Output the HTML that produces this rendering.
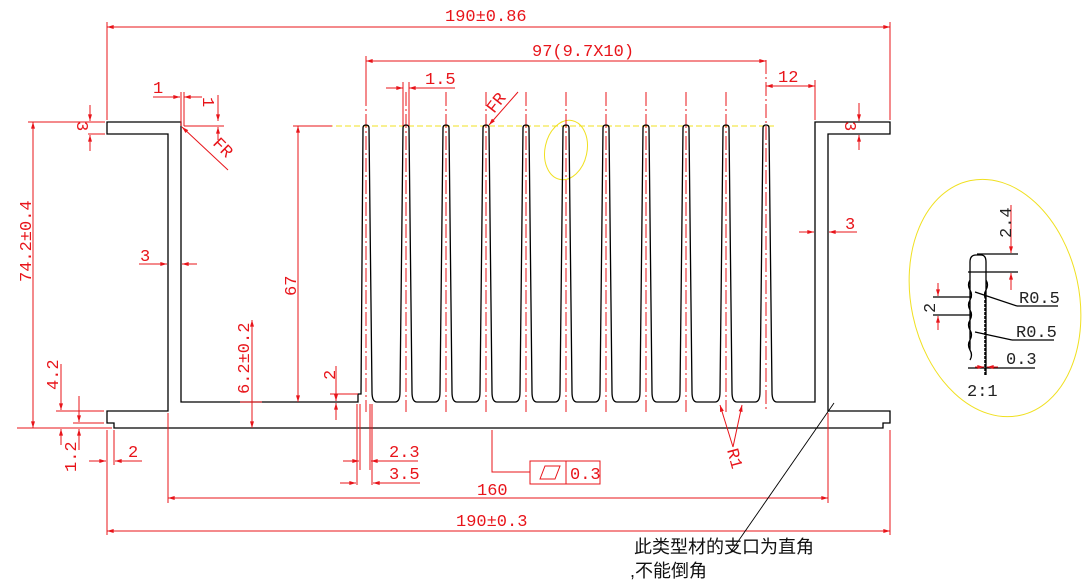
<!DOCTYPE html>
<html><head><meta charset="utf-8"><style>
html,body{margin:0;padding:0;background:#fff;}
svg{display:block}
text{font-family:"Liberation Mono","Noto Sans CJK SC",monospace;fill:#e8141a;font-size:17px}
.k{stroke:#000;fill:none;stroke-width:1.3}
.r{stroke:#e8141a;fill:none;stroke-width:1}
.c{stroke:#e8141a;fill:none;stroke-width:1;stroke-dasharray:14,3,2,3}
.y{stroke:#f0e020;fill:none;stroke-width:1}
</style></head><body>
<svg width="1082" height="582" viewBox="0 0 1082 582" xmlns="http://www.w3.org/2000/svg">
<defs>
<marker id="a" viewBox="0 0 10 6" refX="10" refY="3" markerWidth="8" markerHeight="4" orient="auto-start-reverse"><path d="M0,0L10,3L0,6z" fill="#e8141a"/></marker>
</defs>

<line class="y" x1="300" y1="126" x2="776" y2="126" stroke-dasharray="6,3"/>
<ellipse class="y" cx="566" cy="150" rx="21" ry="30" transform="rotate(12 566 150)"/>
<ellipse class="y" cx="995" cy="298" rx="84" ry="120" transform="rotate(-12 995 298)"/>

<g class="c">
<line x1="366" y1="92" x2="366" y2="412"/><line x1="406" y1="92" x2="406" y2="412"/>
<line x1="446" y1="92" x2="446" y2="412"/><line x1="486" y1="92" x2="486" y2="412"/>
<line x1="526" y1="92" x2="526" y2="412"/><line x1="566" y1="92" x2="566" y2="412"/>
<line x1="606" y1="92" x2="606" y2="412"/><line x1="646" y1="92" x2="646" y2="412"/>
<line x1="686" y1="92" x2="686" y2="412"/><line x1="726" y1="92" x2="726" y2="412"/>
<line x1="766" y1="60" x2="766" y2="412"/>
</g>

<path class="k" d="M107,122 H181 V402 H358 V394 h3
l2,-266 q0,-3 3,-3 q3,0 3,3 l3,264 q0,10 5,10 h18
q5,0 5,-10 l3,-264 q0,-3 3,-3 q3,0 3,3 l3,264 q0,10 5,10 h18
q5,0 5,-10 l3,-264 q0,-3 3,-3 q3,0 3,3 l3,264 q0,10 5,10 h18
q5,0 5,-10 l3,-264 q0,-3 3,-3 q3,0 3,3 l3,264 q0,10 5,10 h18
q5,0 5,-10 l3,-264 q0,-3 3,-3 q3,0 3,3 l3,264 q0,10 5,10 h18
q5,0 5,-10 l3,-264 q0,-3 3,-3 q3,0 3,3 l3,264 q0,10 5,10 h18
q5,0 5,-10 l3,-264 q0,-3 3,-3 q3,0 3,3 l3,264 q0,10 5,10 h18
q5,0 5,-10 l3,-264 q0,-3 3,-3 q3,0 3,3 l3,264 q0,10 5,10 h18
q5,0 5,-10 l3,-264 q0,-3 3,-3 q3,0 3,3 l3,264 q0,10 5,10 h18
q5,0 5,-10 l3,-264 q0,-3 3,-3 q3,0 3,3 l3,264 q0,10 5,10 h18
q5,0 5,-10 l3,-264 q0,-3 3,-3 q3,0 3,3 l3,264 q0,10 5,10
H815 V122 H890 V134 H828 V411 H890 V423 H883 V428 H114 V423 H107 V411 H168 V134 H107 Z"/>

<line class="r" x1="107" y1="27" x2="890" y2="27" marker-start="url(#a)" marker-end="url(#a)"/>
<line class="r" x1="107" y1="22" x2="107" y2="120"/><line class="r" x1="890" y1="22" x2="890" y2="120"/>
<text x="445" y="21">190±0.86</text>
<line class="r" x1="366" y1="61" x2="766" y2="61" marker-start="url(#a)" marker-end="url(#a)"/>
<line class="r" x1="366" y1="56" x2="366" y2="92"/>
<text x="532" y="56">97(9.7X10)</text>
<line class="r" x1="386" y1="88" x2="403" y2="88" marker-end="url(#a)"/>
<line class="r" x1="455" y1="88" x2="409" y2="88" marker-end="url(#a)"/>
<line class="r" x1="403" y1="82" x2="403" y2="126"/><line class="r" x1="409" y1="82" x2="409" y2="126"/>
<text x="425" y="84">1.5</text>
<line class="r" x1="766" y1="86" x2="815" y2="86" marker-start="url(#a)" marker-end="url(#a)"/>
<line class="r" x1="815" y1="80" x2="815" y2="120"/>
<text x="778" y="82">12</text>
<line class="r" x1="518" y1="92" x2="489" y2="125" marker-end="url(#a)"/>
<text x="0" y="0" transform="translate(494,114) rotate(-52)" font-size="18">FR</text>
<line class="r" x1="228" y1="170" x2="182" y2="127" marker-end="url(#a)"/>
<text x="0" y="0" transform="translate(212,144) rotate(45)" font-size="18">FR</text>
<line class="r" x1="153" y1="97" x2="180" y2="97" marker-end="url(#a)"/>
<line class="r" x1="202" y1="97" x2="184" y2="97" marker-end="url(#a)"/>
<line class="r" x1="181" y1="92" x2="181" y2="126"/><line class="r" x1="184" y1="92" x2="184" y2="126"/>
<text x="153" y="93">1</text>
<line class="r" x1="218" y1="95" x2="218" y2="121" marker-end="url(#a)"/>
<line class="r" x1="218" y1="140" x2="218" y2="127" marker-end="url(#a)"/>
<line class="r" x1="184" y1="126" x2="224" y2="126"/>
<text x="0" y="0" transform="translate(203,97) rotate(90)">1</text>
<line class="r" x1="90" y1="105" x2="90" y2="121" marker-end="url(#a)"/>
<line class="r" x1="90" y1="151" x2="90" y2="135" marker-end="url(#a)"/>
<line class="r" x1="88" y1="134" x2="105" y2="134"/>
<text x="0" y="0" transform="translate(77,121) rotate(90)">3</text>
<line class="r" x1="28" y1="122" x2="105" y2="122"/><line class="r" x1="17" y1="428" x2="112" y2="428"/>
<line class="r" x1="33" y1="122" x2="33" y2="428" marker-start="url(#a)" marker-end="url(#a)"/>
<text x="0" y="0" transform="translate(31,282) rotate(-90)">74.2±0.4</text>
<line class="r" x1="139" y1="264" x2="167" y2="264" marker-end="url(#a)"/>
<line class="r" x1="197" y1="264" x2="182" y2="264" marker-end="url(#a)"/>
<text x="140" y="261">3</text>
<line class="r" x1="293" y1="126" x2="332" y2="126"/>
<line class="r" x1="298" y1="126" x2="298" y2="402" marker-start="url(#a)" marker-end="url(#a)"/>
<text x="0" y="0" transform="translate(296,296) rotate(-90)">67</text>
<line class="r" x1="252" y1="320" x2="252" y2="428" marker-start="url(#a)" marker-end="url(#a)"/>
<line class="r" x1="240" y1="402" x2="262" y2="402"/>
<text x="0" y="0" transform="translate(249,394) rotate(-90)">6.2±0.2</text>
<line class="r" x1="61" y1="364" x2="61" y2="410" marker-end="url(#a)"/>
<line class="r" x1="56" y1="411" x2="104" y2="411"/>
<line class="r" x1="79" y1="396" x2="79" y2="422" marker-end="url(#a)"/>
<line class="r" x1="73" y1="423" x2="104" y2="423"/>
<line class="r" x1="79" y1="450" x2="79" y2="429" marker-end="url(#a)"/>
<line class="r" x1="61" y1="445" x2="61" y2="429" marker-end="url(#a)"/>
<text x="0" y="0" transform="translate(58,390) rotate(-90)">4.2</text>
<text x="0" y="0" transform="translate(76,472) rotate(-90)">1.2</text>
<line class="r" x1="107" y1="430" x2="107" y2="535"/><line class="r" x1="114" y1="430" x2="114" y2="465"/>
<line class="r" x1="89" y1="461" x2="106" y2="461" marker-end="url(#a)"/>
<line class="r" x1="142" y1="461" x2="115" y2="461" marker-end="url(#a)"/>
<text x="128" y="457">2</text>
<line class="r" x1="336" y1="366" x2="336" y2="401" marker-end="url(#a)"/>
<line class="r" x1="336" y1="420" x2="336" y2="403" marker-end="url(#a)"/>
<line class="r" x1="330" y1="394" x2="358" y2="394"/>
<text x="0" y="0" transform="translate(335,380) rotate(-90)">2</text>
<line class="r" x1="357" y1="404" x2="357" y2="485"/><line class="r" x1="360" y1="404" x2="360" y2="470"/>
<line class="r" x1="370" y1="404" x2="370" y2="470"/><line class="r" x1="372" y1="404" x2="372" y2="485"/>
<line class="r" x1="343" y1="461" x2="359" y2="461" marker-end="url(#a)"/>
<line class="r" x1="418" y1="461" x2="371" y2="461" marker-end="url(#a)"/>
<line class="r" x1="340" y1="483" x2="356" y2="483" marker-end="url(#a)"/>
<line class="r" x1="420" y1="483" x2="373" y2="483" marker-end="url(#a)"/>
<text x="389" y="457">2.3</text><text x="389" y="479">3.5</text>
<polyline class="r" points="492,430 492,472 530,472"/>
<rect class="r" x="530" y="461" width="70" height="23"/><line class="r" x1="566" y1="461" x2="566" y2="484"/>
<polygon class="r" points="540,479 545,466 560,466 555,479"/>
<text x="570" y="479">0.3</text>
<line class="r" x1="733" y1="447" x2="720" y2="405" marker-end="url(#a)"/>
<line class="r" x1="733" y1="447" x2="742" y2="405" marker-end="url(#a)"/>
<text x="0" y="0" transform="translate(727,450) rotate(75)">R1</text>
<line class="r" x1="168" y1="413" x2="168" y2="503"/>
<line class="r" x1="828" y1="413" x2="828" y2="503"/>
<line class="r" x1="168" y1="498" x2="828" y2="498" marker-start="url(#a)" marker-end="url(#a)"/>
<text x="477" y="495">160</text>
<line class="r" x1="890" y1="430" x2="890" y2="535"/>
<line class="r" x1="107" y1="531" x2="890" y2="531" marker-start="url(#a)" marker-end="url(#a)"/>
<text x="456" y="526">190±0.3</text>
<line class="r" x1="799" y1="232" x2="814" y2="232" marker-end="url(#a)"/>
<line class="r" x1="857" y1="232" x2="829" y2="232" marker-end="url(#a)"/>
<text x="845" y="229">3</text>
<line class="r" x1="859" y1="103" x2="859" y2="121" marker-end="url(#a)"/>
<line class="r" x1="859" y1="150" x2="859" y2="135" marker-end="url(#a)"/>
<text x="0" y="0" transform="translate(845,121) rotate(90)">3</text>
<line x1="834" y1="403" x2="730" y2="553" stroke="#000" stroke-width="0.9"/>
<text x="634" y="553" style="fill:#111;font-family:'Liberation Sans','Noto Sans CJK SC',sans-serif;font-size:18px">此类型材的支口为直角</text>
<text x="630" y="577" style="fill:#111;font-family:'Liberation Sans','Noto Sans CJK SC',sans-serif;font-size:18px">,不能倒角</text>

<path class="k" stroke-width="1" d="M970,350 V262 q0,-7 6,-7 h5 q5,0 5,7 V375 M970,280 q-3,5 0,10 q3,5 0,10 q-3,5 0,10 q3,5 0,10 q-3,5 0,10 q3,5 0,10 q-3,5 0,10 q3,5 0,10 M986,280 q3,5 0,10 q-3,5 0,10"/>
<line x1="985" y1="300" x2="985" y2="375" stroke="#000" stroke-width="1.5" stroke-dasharray="3,1"/>
<line class="k" stroke-width="0.8" x1="977" y1="254" x2="1018" y2="254"/>
<line class="k" stroke-width="0.8" x1="968" y1="272" x2="1018" y2="272"/>
<line class="r" x1="1011" y1="205" x2="1011" y2="253" marker-end="url(#a)"/>
<line class="r" x1="1011" y1="290" x2="1011" y2="273" marker-end="url(#a)"/>
<text x="0" y="0" transform="translate(1011,238) rotate(-90)" style="fill:#222">2.4</text>
<line class="k" stroke-width="0.8" x1="933" y1="297" x2="972" y2="297"/>
<line class="k" stroke-width="0.8" x1="933" y1="315" x2="972" y2="315"/>
<line class="r" x1="938" y1="283" x2="938" y2="296" marker-end="url(#a)"/>
<line class="r" x1="938" y1="330" x2="938" y2="316" marker-end="url(#a)"/>
<text x="0" y="0" transform="translate(935,313) rotate(-90)" style="fill:#222">2</text>
<line class="k" stroke-width="0.8" x1="1017" y1="306" x2="975" y2="292"/>
<line class="k" stroke-width="0.8" x1="1017" y1="306" x2="1058" y2="306"/>
<text x="1019" y="303" style="fill:#222">R0.5</text>
<line class="k" stroke-width="0.8" x1="1012" y1="340" x2="975" y2="332"/>
<line class="k" stroke-width="0.8" x1="1012" y1="340" x2="1054" y2="340"/>
<text x="1016" y="337" style="fill:#222">R0.5</text>
<line class="k" stroke-width="0.8" x1="968" y1="368" x2="1035" y2="368"/>
<line class="r" x1="975" y1="367" x2="984" y2="367" marker-end="url(#a)"/>
<line class="r" x1="998" y1="367" x2="987" y2="367" marker-end="url(#a)"/>
<text x="1006" y="364" style="fill:#222">0.3</text>
<text x="967" y="396" style="fill:#222">2:1</text>
</svg>
</body></html>
